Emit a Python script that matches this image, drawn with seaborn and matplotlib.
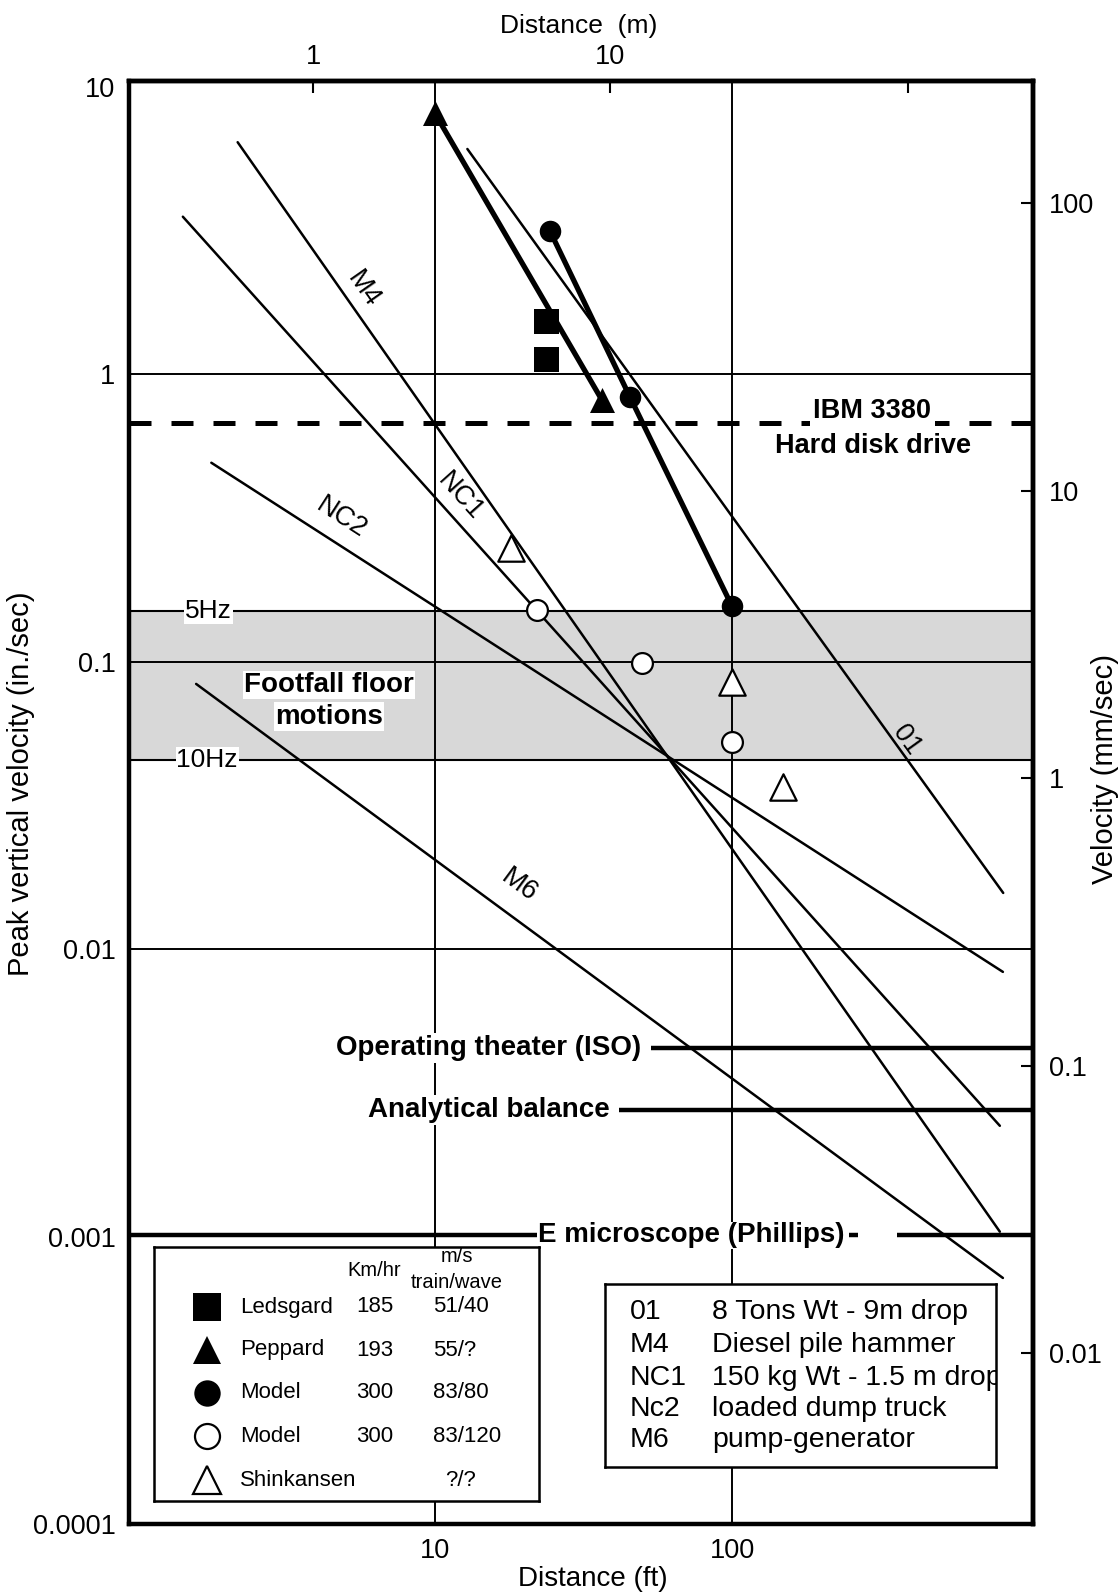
import numpy as np
import pandas as pd
import matplotlib
matplotlib.use("Agg")
import matplotlib.pyplot as plt
from matplotlib.ticker import NullLocator, NullFormatter, LogLocator, FixedLocator, FixedFormatter
import seaborn as sns

# ---------------- data ----------------
# Attenuation curves: straight lines on log-log axes (distance ft, velocity in/sec)
curve_names = ["M4", "NC1", "NC2", "01", "M6"]
curve_start_ft = [2.175, 1.423, 1.774, 12.88, 1.577]
curve_start_ips = [6.43, 3.54, 0.493, 6.09, 0.0838]
curve_end_ft = [795.0, 795.0, 814.0, 816.0, 814.0]
curve_end_ips = [0.00104, 0.00243, 0.00834, 0.0157, 0.000718]
# where each curve name sits (ft, in/sec)
curve_label_ft = [5.74, 12.14, 4.86, 386.0, 19.2]
curve_label_ips = [1.97, 0.376, 0.316, 0.0535, 0.0166]

# Train-induced vibration measurements / models
peppard_ft = [10.0, 36.5]
peppard_ips = [8.13, 0.815]
ledsgard_ft = [23.6, 23.6]
ledsgard_ips = [1.54, 1.13]
model80_ft = [24.4, 45.3, 100.0]
model80_ips = [3.16, 0.837, 0.156]
model120_ft = [22.0, 49.6, 100.0]
model120_ips = [0.152, 0.099, 0.0528]
shinkansen_ft = [18.1, 100.0, 148.0]
shinkansen_ips = [0.248, 0.0853, 0.0368]

# Equipment criteria (in/sec)
ibm_ips = 0.68
footfall_5hz_ips = 0.150
footfall_10hz_ips = 0.0456
criteria_names = ["Operating theater (ISO)", "Analytical balance"]
criteria_ips = [0.00452, 0.00276]
criteria_start_ft = [53.3, 41.6]
emicro_name = "E microscope (Phillips)"
emicro_ips = 0.00101
emicro_seg_start_ft = [0.94, 247.0, 358.0]
emicro_seg_end_ft = [22.0, 265.0, 1030.0]

grid_ft = [10, 100]
grid_ips = [1, 0.1, 0.01]

y_ticks_ips = [1e-4, 1e-3, 1e-2, 1e-1, 1, 10]
y_tick_labels = ["0.0001", "0.001", "0.01", "0.1", "1", "10"]
y_ticks_mms = [0.01, 0.1, 1, 10, 100]
y_tick_labels_mms = ["0.01", "0.1", "1", "10", "100"]
x_ticks_ft = [10, 100]
x_tick_labels = ["10", "100"]
x_ticks_m = [1, 10, 100]
x_tick_labels_m = ["1", "10", ""]

legend_names = ["Ledsgard", "Peppard", "Model", "Model", "Shinkansen"]
legend_kmh = ["185", "193", "300", "300", ""]
legend_ms = ["51/40", "55/?", "83/80", "83/120", "?/?"]

source_codes = ["01", "M4", "NC1", "Nc2", "M6"]
source_desc = ["8 Tons Wt - 9m drop", "Diesel pile hammer",
               "150 kg Wt - 1.5 m drop", "loaded dump truck", "pump-generator"]

FT_PER_M = 3.9   # scale of the metre axis along the top

# ---------------- style ----------------
sns.set_theme(style="white")
plt.rcParams["font.family"] = ["Liberation Sans", "DejaVu Sans"]
plt.rcParams["axes.edgecolor"] = "black"
plt.rcParams["text.color"] = "black"
plt.rcParams["xtick.color"] = "black"
plt.rcParams["ytick.color"] = "black"

W, H = 1120, 1596
fig = plt.figure(figsize=(W / 100, H / 100), dpi=100)
fig.patch.set_facecolor("white")
ax = fig.add_axes([129.3 / W, 1 - 1524 / H, 904 / W, 1443 / H])
ax.set_xscale("log")
ax.set_yscale("log")
ax.set_xlim(0.94, 1030)
ax.set_ylim(1e-4, 10.5)
ax.set_facecolor("white")

# footfall band
ax.axhspan(footfall_10hz_ips, footfall_5hz_ips, facecolor="#d8d8d8", edgecolor="none", zorder=0.5)
for v in (footfall_5hz_ips, footfall_10hz_ips):
    ax.axhline(v, color="black", lw=1.5, zorder=1)

# grid
for g in grid_ft:
    ax.axvline(g, color="black", lw=1.4, zorder=1)
for g in grid_ips:
    ax.axhline(g, color="black", lw=1.4, zorder=1)

# attenuation curves
curves = pd.DataFrame({
    "curve": np.repeat(curve_names, 2),
    "ft": np.column_stack([curve_start_ft, curve_end_ft]).ravel(),
    "ips": np.column_stack([curve_start_ips, curve_end_ips]).ravel(),
})
sns.lineplot(data=curves, x="ft", y="ips", units="curve", estimator=None, sort=False,
             color="black", lw=1.8, ax=ax, zorder=3, legend=False)

# measured/model paths
for xs, ys in [(peppard_ft, peppard_ips), (model80_ft, model80_ips)]:
    sns.lineplot(x=xs, y=ys, sort=False, estimator=None, color="black", lw=3.8,
                 ax=ax, zorder=4, legend=False)

sns.scatterplot(x=peppard_ft, y=peppard_ips, marker="^", s=18 ** 2, color="black",
                edgecolor="black", linewidth=0, ax=ax, zorder=5, legend=False)
sns.scatterplot(x=ledsgard_ft, y=ledsgard_ips, marker="s", s=18 ** 2, color="black",
                edgecolor="black", linewidth=0, ax=ax, zorder=5, legend=False)
sns.scatterplot(x=model80_ft, y=model80_ips, marker="o", s=15.5 ** 2, color="black",
                edgecolor="black", linewidth=0, ax=ax, zorder=5, legend=False)
sns.scatterplot(x=model120_ft, y=model120_ips, marker="o", s=15 ** 2, color="white",
                edgecolor="black", linewidth=1.6, ax=ax, zorder=5, legend=False)
sns.scatterplot(x=shinkansen_ft, y=shinkansen_ips, marker="^", s=19 ** 2, color="white",
                edgecolor="black", linewidth=1.6, ax=ax, zorder=5, legend=False)

# IBM 3380 criterion
ax.axhline(ibm_ips, color="black", lw=3.6, linestyle=(0, (4.4, 4.0)), dash_capstyle="butt", zorder=2)
ax.text(296, ibm_ips * 1.035, "IBM 3380", ha="center", va="baseline", fontsize=19.5,
        fontweight="bold", bbox=dict(facecolor="white", edgecolor="none", pad=2.5), zorder=6)
ax.text(297, 0.565, "Hard disk drive", ha="center", va="center", fontsize=19.5,
        fontweight="bold", zorder=6)

# other criteria
xmax = ax.get_xlim()[1]
white_box = dict(facecolor="white", edgecolor="none", pad=1.5)
for name, v, x0 in zip(criteria_names, criteria_ips, criteria_start_ft):
    ax.hlines(v, x0, xmax, color="black", lw=3.2, zorder=2)
    ax.text(x0 * 0.93, v, name, ha="right", va="center", fontsize=20, fontweight="bold",
            bbox=white_box, zorder=2.5)
for a, b in zip(emicro_seg_start_ft, emicro_seg_end_ft):
    ax.hlines(emicro_ips, a, b, color="black", lw=3.2, zorder=2)
ax.text(emicro_seg_end_ft[0] * 1.01, emicro_ips, emicro_name, ha="left", va="center",
        fontsize=20, fontweight="bold", bbox=dict(facecolor="white", edgecolor="none", pad=0.5),
        zorder=2.5)

# footfall labels
ax.text(4.40, 0.0831, "Footfall floor", ha="center", va="center", fontsize=20,
        fontweight="bold", bbox=dict(facecolor="white", edgecolor="none", pad=0.8), zorder=2.5)
ax.text(4.40, 0.0645, "motions", ha="center", va="center", fontsize=20,
        fontweight="bold", bbox=dict(facecolor="white", edgecolor="none", pad=0.8), zorder=2.5)
ax.text(1.738, footfall_5hz_ips, "5Hz", ha="center", va="center", fontsize=19,
        bbox=dict(facecolor="white", edgecolor="none", pad=0.5), zorder=2.5)
ax.text(1.717, footfall_10hz_ips, "10Hz", ha="center", va="center", fontsize=19,
        bbox=dict(facecolor="white", edgecolor="none", pad=0.5), zorder=2.5)

# curve names, rotated along their lines
for name, x0, y0, x1, y1, lx, ly in zip(curve_names, curve_start_ft, curve_start_ips,
                                         curve_end_ft, curve_end_ips,
                                         curve_label_ft, curve_label_ips):
    p0 = ax.transData.transform((x0, y0))
    p1 = ax.transData.transform((x1, y1))
    ang = np.degrees(np.arctan2(p1[1] - p0[1], p1[0] - p0[0]))
    ax.text(lx, ly, name, rotation=ang, rotation_mode="anchor", ha="center", va="center",
            fontsize=19.5, zorder=6)

# axes, ticks
for sp in ax.spines.values():
    sp.set_linewidth(3.2)
    sp.set_color("black")
ax.yaxis.set_major_locator(FixedLocator(y_ticks_ips))
ax.yaxis.set_major_formatter(FixedFormatter(y_tick_labels))
ax.yaxis.set_minor_locator(LogLocator(base=10, subs=np.arange(2, 10), numticks=20))
ax.yaxis.set_minor_formatter(NullFormatter())
ax.xaxis.set_major_locator(FixedLocator(x_ticks_ft))
ax.xaxis.set_major_formatter(FixedFormatter(x_tick_labels))
ax.xaxis.set_minor_locator(LogLocator(base=10, subs=np.arange(2, 10), numticks=20))
ax.xaxis.set_minor_formatter(NullFormatter())
ax.tick_params(which="both", direction="in", width=1.5, labelsize=19.5)
ax.tick_params(which="major", length=8.5)
ax.tick_params(which="minor", length=8.5)
ax.tick_params(axis="y", pad=10)
ax.tick_params(axis="x", pad=10)
ax.set_xlabel("")
ax.set_ylabel("")

sec_y = ax.secondary_yaxis("right", functions=(lambda v: v * 25.4, lambda v: v / 25.4))
sec_y.yaxis.set_major_locator(FixedLocator(y_ticks_mms))
sec_y.yaxis.set_major_formatter(FixedFormatter(y_tick_labels_mms))
sec_y.yaxis.set_minor_locator(NullLocator())
sec_y.tick_params(direction="in", length=8.5, width=1.5, labelsize=19.5, pad=11)
sec_y.spines["right"].set_linewidth(3.2)

sec_x = ax.secondary_xaxis("top", functions=(lambda v: v / FT_PER_M, lambda v: v * FT_PER_M))
sec_x.xaxis.set_major_locator(FixedLocator(x_ticks_m))
sec_x.xaxis.set_major_formatter(FixedFormatter(x_tick_labels_m))
sec_x.xaxis.set_minor_locator(NullLocator())
sec_x.tick_params(direction="in", length=8.5, width=1.5, labelsize=19.5, pad=8)
sec_x.spines["top"].set_linewidth(3.2)

fig.text(593 / W, 1 - 1579 / H, "Distance (ft)", ha="center", va="center", fontsize=20)
fig.text(579 / W, 1 - 26 / H, "Distance  (m)", ha="center", va="center", fontsize=19)
fig.text(21 / W, 1 - 784 / H, "Peak vertical velocity (in./sec)", ha="center", va="center",
         rotation=90, fontsize=21)
fig.text(1105 / W, 1 - 769 / H, "Velocity (mm/sec)", ha="center", va="center",
         rotation=90, fontsize=21)

# ---------------- train legend ----------------
leg = fig.add_axes([154 / W, 1 - 1501 / H, 385 / W, 254 / H])
leg.set_xlim(0, 385)
leg.set_ylim(254, 0)
leg.set_xticks([])
leg.set_yticks([])
leg.set_facecolor("white")
for sp in leg.spines.values():
    sp.set_linewidth(1.8)
    sp.set_color("black")
leg.text(220, 23, "Km/hr", ha="center", va="center", fontsize=14.5)
leg.text(303, 10, "m/s", ha="center", va="center", fontsize=14.5)
leg.text(303, 35, "train/wave", ha="center", va="center", fontsize=14.5)
row_y = [60, 103, 146, 189, 233]
glyphs = [("s", "black", 20), ("^", "black", 20), ("o", "black", 19), ("o", "white", 18), ("^", "white", 20)]
for yy, name, kmh, ms, (mk, fc, sz) in zip(row_y, legend_names, legend_kmh, legend_ms, glyphs):
    leg.plot([53], [yy], marker=mk, ms=sz, mfc=fc, mec="black", mew=1.6 if fc == "white" else 0,
             linestyle="none")
    leg.text(86, yy, name, ha="left", va="center", fontsize=16)
    if kmh:
        leg.text(202, yy, kmh, ha="left", va="center", fontsize=16)
        leg.text(279, yy, ms, ha="left", va="center", fontsize=16)
    else:
        leg.text(307, yy, ms, ha="center", va="center", fontsize=16)

# ---------------- source legend ----------------
src = fig.add_axes([605 / W, 1 - 1467 / H, 391 / W, 183 / H])
src.set_xlim(0, 391)
src.set_ylim(183, 0)
src.set_xticks([])
src.set_yticks([])
src.set_facecolor("white")
for sp in src.spines.values():
    sp.set_linewidth(1.8)
    sp.set_color("black")
for yy, code, desc in zip([28, 61, 94, 125, 156], source_codes, source_desc):
    src.text(25, yy, code, ha="left", va="center", fontsize=20.5, clip_on=True)
    src.text(107, yy, desc, ha="left", va="center", fontsize=20.5, clip_on=True)

fig.savefig("out.png", dpi=100, facecolor="white")
